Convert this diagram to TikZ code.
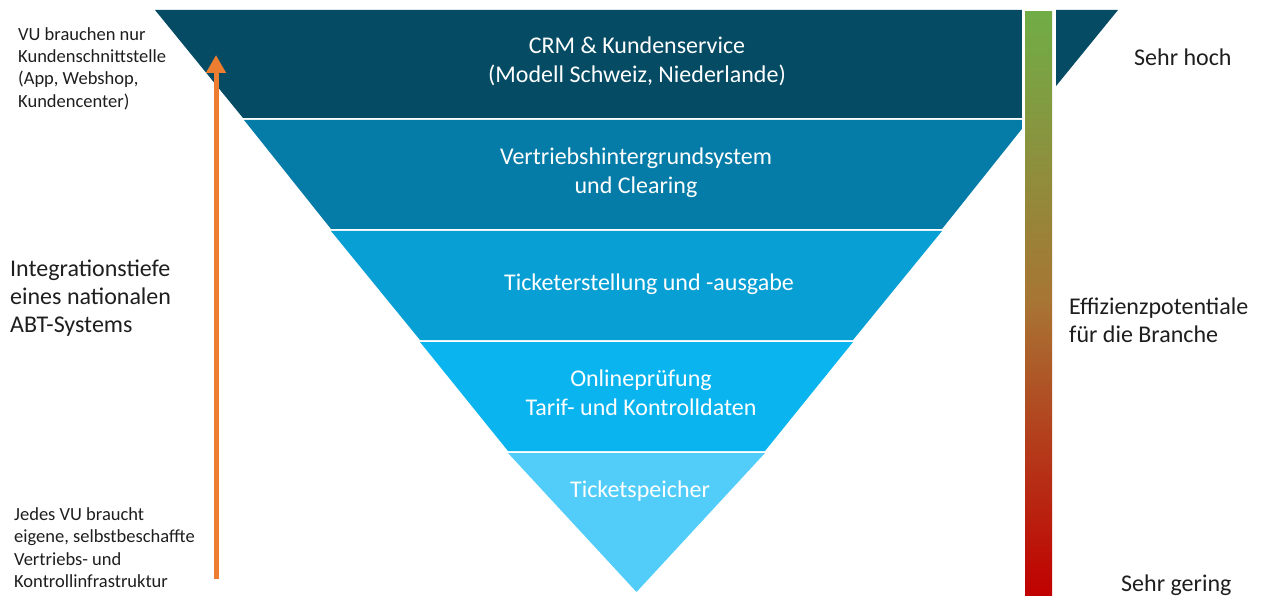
\documentclass[tikz,border=0pt]{standalone}
\usepackage{fontspec}
\setmainfont{Carlito}
\usetikzlibrary{arrows.meta}

\definecolor{bandA}{RGB}{4,75,99}
\definecolor{bandB}{RGB}{5,124,167}
\definecolor{bandC}{RGB}{8,159,212}
\definecolor{bandD}{RGB}{10,181,239}
\definecolor{bandE}{RGB}{82,205,250}
\definecolor{arrowOrange}{RGB}{237,125,49}
\definecolor{barGreen}{RGB}{112,173,71}
\definecolor{barMid}{RGB}{168,116,52}
\definecolor{barRed}{RGB}{192,0,0}
\definecolor{labelGray}{RGB}{30,30,30}

\begin{document}
\begin{tikzpicture}[x=1pt,y=-1pt,
  bandtext/.style={text=white,align=center,inner sep=0pt,font=\fontsize{24}{29}\selectfont},
  bigside/.style={text=labelGray,align=left,anchor=west,inner sep=0pt,font=\fontsize{24}{28}\selectfont},
  smallside/.style={text=labelGray,align=left,anchor=west,inner sep=0pt,font=\fontsize{18.5}{22.3}\selectfont},
  levelarrow/.style={arrowOrange,line width=5pt,-{Triangle[width=19pt,length=18pt]}}
]
\useasboundingbox (0,0) rectangle (1262,596);

% inverted funnel made of five stacked bands
\fill[bandA] (155,10)  -- (1118,10)  -- (1030,118) -- (243,118) -- cycle;
\fill[bandB] (244,120) -- (1029,120) -- (942,229)  -- (331,229) -- cycle;
\fill[bandC] (331,231) -- (942,231)  -- (853,340)  -- (420,340) -- cycle;
\fill[bandD] (420,342) -- (853,342)  -- (765,451)  -- (508,451) -- cycle;
\fill[bandE] (508,453) -- (765,453)  -- (636.5,592) -- cycle;

% efficiency scale bar with white gap around it
\fill[white] (1021.5,0) rectangle (1055.5,596);
\shade[top color=barGreen,bottom color=barRed,middle color=barMid]
  (1025,12) rectangle (1052,596);

% band labels
\node[bandtext] (crm)    at (637,61.5)  {CRM \& Kundenservice\\(Modell Schweiz, Niederlande)};
\node[bandtext] (vhs)    at (636,172.5) {Vertriebshintergrundsystem\\und Clearing};
\node[bandtext] (ticket) at (649,284)   {Ticketerstellung und -ausgabe};
\node[bandtext] (online) at (641,393)   {Onlineprüfung\\Tarif- und Kontrolldaten};
\node[bandtext] (store)  at (640,491.5) {Ticketspeicher};

% integration depth arrow
\coordinate (arrLow)  at (216,579);
\coordinate (arrHigh) at (216,55);
\draw[levelarrow] (arrLow) -- (arrHigh);

% left side labels
\node[smallside] (topleft) at (18,68.5)  {VU brauchen nur\\Kundenschnittstelle\\(App, Webshop,\\Kundencenter)};
\node[bigside]   (depth)   at (10,298)   {Integrationstiefe\\eines nationalen\\ABT-Systems};
\node[smallside] (botleft) at (14,547.5) {Jedes VU braucht\\eigene, selbstbeschaffte\\Vertriebs- und\\Kontrollinfrastruktur};

% right side labels
\node[bigside] (high)   at (1134,57)  {Sehr hoch};
\node[bigside] (effic)  at (1069,320) {Effizienzpotentiale\\für die Branche};
\node[bigside] (low)    at (1121,585) {Sehr gering};
\end{tikzpicture}
\end{document}
